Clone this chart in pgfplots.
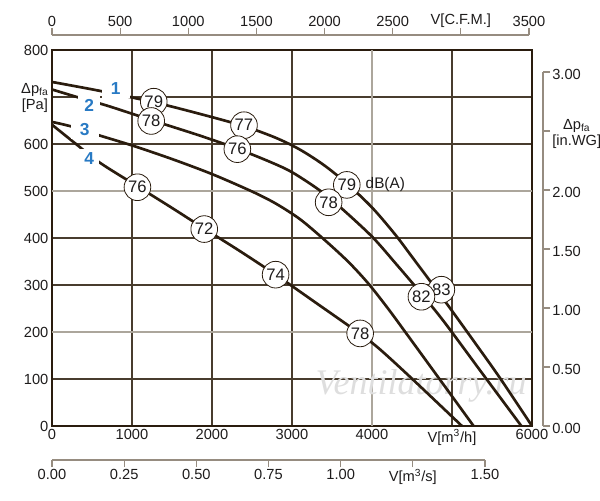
\documentclass[border=0pt]{standalone}
\usepackage{pgfplots}
\pgfplotsset{compat=1.18}
\usepackage{fontspec}
\setmainfont{Liberation Sans}
\newfontfamily\wmfont{Liberation Serif}
\definecolor{dk}{RGB}{42,28,14}
\definecolor{gridc}{RGB}{72,60,46}
\definecolor{gridl}{RGB}{172,166,156}
\definecolor{secc}{RGB}{150,140,128}
\definecolor{txt}{RGB}{30,28,28}
\definecolor{blu}{RGB}{40,122,196}

\begin{document}
\begin{tikzpicture}
\useasboundingbox (0,0) rectangle (450pt,375pt);
% top axis: C.F.M.
\begin{axis}[at={(39pt,348.75pt)}, anchor=north west, scale only axis,
  width=357.75pt, height=10pt, xmin=0, xmax=3500, ymin=0, ymax=1,
  hide y axis, axis x line=top,
  every outer x axis line/.append style={-},
  axis line style={secc, line width=0.8pt, -},
  xtick={0,500,1000,1500,2000,2500,3000,3500},
  xticklabels={0,500,1000,1500,2000,2500,V[C.F.M.],3500},
  tick align=outside, major tick length=5.25pt,
  tick style={secc, line width=0.8pt},
  xticklabel style={font=\fontsize{11}{12}\selectfont, text=txt, inner sep=0.5pt}]
\end{axis}
% bottom axis: m3/s
\begin{axis}[at={(39pt,30pt)}, anchor=south west, scale only axis,
  width=324.75pt, height=10pt, xmin=0, xmax=1.5, ymin=0, ymax=1,
  hide y axis, axis x line=bottom,
  every outer x axis line/.append style={-},
  axis line style={secc, line width=0.8pt, -},
  xtick={0,0.25,0.5,0.75,1,1.25,1.5},
  xticklabels={0.00,0.25,0.50,0.75,1.00,V[m\textsuperscript{3}/s],1.50},
  tick align=outside, major tick length=5.25pt,
  tick style={secc, line width=0.8pt},
  xticklabel style={font=\fontsize{11}{12}\selectfont, text=txt, inner sep=1.5pt}]
\end{axis}
% right axis: in.WG
\begin{axis}[at={(407.25pt,55.5pt)}, anchor=south east, scale only axis,
  width=10pt, height=265.5pt, xmin=0, xmax=1, ymin=0, ymax=3,
  hide x axis, axis y line=right,
  every outer y axis line/.append style={-},
  axis line style={secc, line width=0.8pt, -},
  ytick={0,0.5,1,1.5,2,2.5,3},
  yticklabels={0.00,0.50,1.00,1.50,2.00,{\strut Δp\textsubscript{fa}\\{[in.WG]}},3.00},
  tick align=outside, major tick length=5.25pt,
  tick style={secc, line width=0.8pt},
  yticklabel style={font=\fontsize{11}{12}\selectfont, text=txt, inner sep=1.5pt, align=center, yshift=-1.5pt}]
\end{axis}
% main axis
\begin{axis}[at={(39pt,55.5pt)}, anchor=south west, scale only axis,
  width=360pt, height=282pt,
  xmin=0, xmax=6000, ymin=0, ymax=800,
  axis line style={dk, line width=2.2pt},
  grid=major, major grid style={gridc, line width=1.5pt},
  major tick length=0pt,
  xtick={0,1000,2000,3000,4000,5000,6000},
  xticklabels={0,1000,2000,3000,4000,V[m\textsuperscript{3}/h],6000},
  ytick={0,100,200,300,400,500,600,700,800},
  yticklabels={0,100,200,300,400,500,600,{\strut Δp\textsubscript{fa}\\{[Pa]}},800},
  xticklabel style={font=\fontsize{11}{12}\selectfont, text=txt, inner sep=2.5pt},
  yticklabel style={font=\fontsize{11}{12}\selectfont, text=txt, align=center, inner sep=2.5pt},
  clip=false]
\draw[gridl, line width=1.5pt] (axis cs:0,200) -- (axis cs:6000,200);
\draw[gridl, line width=1.5pt] (axis cs:0,500) -- (axis cs:6000,500);
\draw[gridl, line width=1.5pt] (axis cs:4000,0) -- (axis cs:4000,800);
\node[font=\wmfont\itshape\fontsize{27}{27}\selectfont, text=black!13] at (axis cs:4614,86) {Ventilatorry.ru};
% curve 1
\addplot[dk, line width=2pt, smooth] coordinates {
(0,732) (600,713) (1270,689) (1850,664) (2400,638) (2800,613) (3100,588)
(3400,555) (3685,516) (4000,465) (4287,408) (4500,360) (4750,303) (5000,245)
(5300,174) (5600,102) (6000,0)};
% curve 2
\addplot[dk, line width=2pt, smooth] coordinates {
(0,716) (350,698) (700,681) (1240,651) (1846,618) (2317,590) (2739,561) (3000,540)
(3333,503) (3600,466) (4000,403) (4300,345) (4600,285) (4900,222) (5400,107) (5867,0)};
% curve 3
\addplot[dk, line width=2pt, smooth] coordinates {
(0,647) (250,637) (578,619) (1000,597) (1500,568) (2000,536) (2500,499) (2800,473)
(3100,440) (3400,397) (3700,350) (3950,304) (4200,250) (4450,192) (4835,102) (5270,0)};
% curve 4
\addplot[dk, line width=2pt, smooth] coordinates {
(0,641) (300,600) (600,560) (1068,510) (1500,464) (1903,420) (2350,372) (2795,322)
(3300,262) (3852,196) (4100,163) (4504,100) (5124,0)};
% dB labels
\tikzset{dbl/.style={circle, draw=dk, line width=0.6pt, fill=white, minimum size=20pt, inner sep=0pt, text=txt, font=\fontsize{12.5}{13}\selectfont}}
\node[dbl] at (axis cs:1272,690) {79};
\node[dbl] at (axis cs:2400,640) {77};
\node[dbl] at (axis cs:3685,513) {79};
\node[dbl] at (axis cs:4867,290) {83};
\node[dbl] at (axis cs:1240,649) {78};
\node[dbl] at (axis cs:2317,589) {76};
\node[dbl] at (axis cs:3458,476) {78};
\node[dbl] at (axis cs:4618,275) {82};
\node[dbl] at (axis cs:1068,508) {76};
\node[dbl] at (axis cs:1903,419) {72};
\node[dbl] at (axis cs:2795,322) {74};
\node[dbl] at (axis cs:3852,197) {78};
\node[anchor=west, inner sep=0pt, text=txt, font=\fontsize{11.5}{12}\selectfont] at (axis cs:3685,513) [xshift=14pt] {dB(A)};
% curve numbers
\tikzset{cn/.style={fill=white, inner sep=0pt, minimum height=14pt, text=blu, font=\bfseries\fontsize{13}{13}\selectfont}}
\node[cn, minimum width=21pt] at (axis cs:796,717) {1};
\node[cn, minimum width=17pt] at (axis cs:464,682) {2};
\node[cn, minimum width=21pt] at (axis cs:410,630) {3};
\node[cn, minimum width=15pt] at (axis cs:464,570) {4};
\end{axis}
\end{tikzpicture}
\end{document}
